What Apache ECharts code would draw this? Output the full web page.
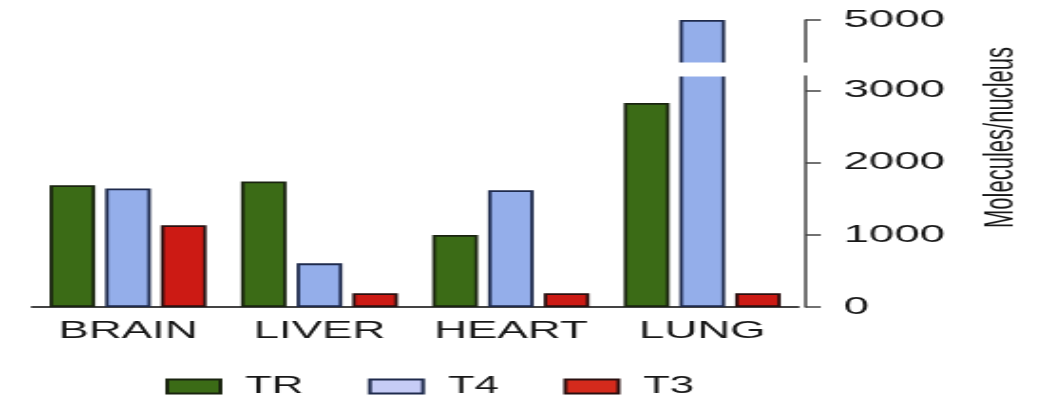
<!DOCTYPE html>
<html>
<head>
<meta charset="utf-8">
<script src="https://cdn.jsdelivr.net/npm/echarts@6/dist/echarts.min.js"></script>
<style>
  html, body { margin: 0; padding: 0; background: #fff; overflow: hidden; }
  /* the figure is drawn narrow and widened horizontally */
  #chart { width: 546px; height: 400px; transform: scaleX(1.9); transform-origin: 0 0; }
</style>
</head>
<body>
<div id="chart"></div>
<script>
const categories = ['BRAIN', 'LIVER', 'HEART', 'LUNG'];
const trValues = [1690, 1740, 1000, 2830];
const t4Values = [1645, 605, 1620, 5000];
const t3Values = [1135, 190, 190, 190];
const yTicks = [0, 1000, 2000, 3000, 5000];

const FONT = '"Liberation Sans", Arial, Helvetica, sans-serif';
const INK = '#181818';
const AXIS = '#444444';

const chart = echarts.init(document.getElementById('chart'), null, { renderer: 'canvas' });

function barSeries(name, data, fill, edge) {
  return {
    name: name,
    type: 'bar',
    data: data,
    barGap: '22%',
    barCategoryGap: '18%',
    itemStyle: { color: fill, borderColor: edge, borderWidth: 1.8 }
  };
}

chart.setOption({
  animation: false,
  backgroundColor: '#ffffff',
  grid: { left: 17, right: 121, top: 20, bottom: 93, containLabel: false },
  legend: {
    left: 82,
    top: 370,
    icon: 'rect',
    itemWidth: 28,
    itemHeight: 14,
    itemGap: 34,
    textStyle: { fontFamily: FONT, fontSize: 23, color: INK, padding: [0, 0, 0, 8] },
    data: [
      { name: 'TR' },
      { name: 'T4', itemStyle: { color: '#c6ccf6' } },
      { name: 'T3', itemStyle: { color: '#d42a1c' } }
    ]
  },
  xAxis: {
    type: 'category',
    data: categories,
    axisLine: { show: true, lineStyle: { color: AXIS, width: 2 } },
    axisTick: { show: false },
    axisLabel: { interval: 0, fontFamily: FONT, fontSize: 24, color: INK, margin: 12 },
    splitLine: { show: false }
  },
  yAxis: {
    type: 'value',
    position: 'right',
    offset: 4,
    min: 0,
    max: 5000,
    interval: 1000,
    breaks: [{ start: 3200, end: 4420, gap: 200 }],
    breakArea: {
      show: true,
      itemStyle: { color: '#ffffff', borderColor: '#ffffff', borderWidth: 0, opacity: 1 },
      zigzagAmplitude: 0,
      expandOnClick: false
    },
    axisLine: { show: true, lineStyle: { color: AXIS, width: 1.5 } },
    axisTick: { show: true, inside: false, length: 8, customValues: yTicks, lineStyle: { color: AXIS, width: 1.5 } },
    axisLabel: {
      fontFamily: FONT, fontSize: 24, color: INK, margin: 20,
      customValues: yTicks, hideOverlap: false, showMinLabel: true, showMaxLabel: true,
      formatter: function (v) { return String(v); }
    },
    splitLine: { show: false },
    name: 'Molecules/nucleus',
    nameLocation: 'middle',
    nameRotate: 90,
    nameGap: 92,
    nameTextStyle: { fontFamily: FONT, fontSize: 22, color: INK, padding: [0, 0, 0, 52] }
  },
  series: [
    barSeries('TR', trValues, '#3b6b16', '#1a2410'),
    barSeries('T4', t4Values, '#94aeea', '#1f2b4d'),
    barSeries('T3', t3Values, '#cc1a14', '#2a1010')
  ]
});
</script>
</body>
</html>
